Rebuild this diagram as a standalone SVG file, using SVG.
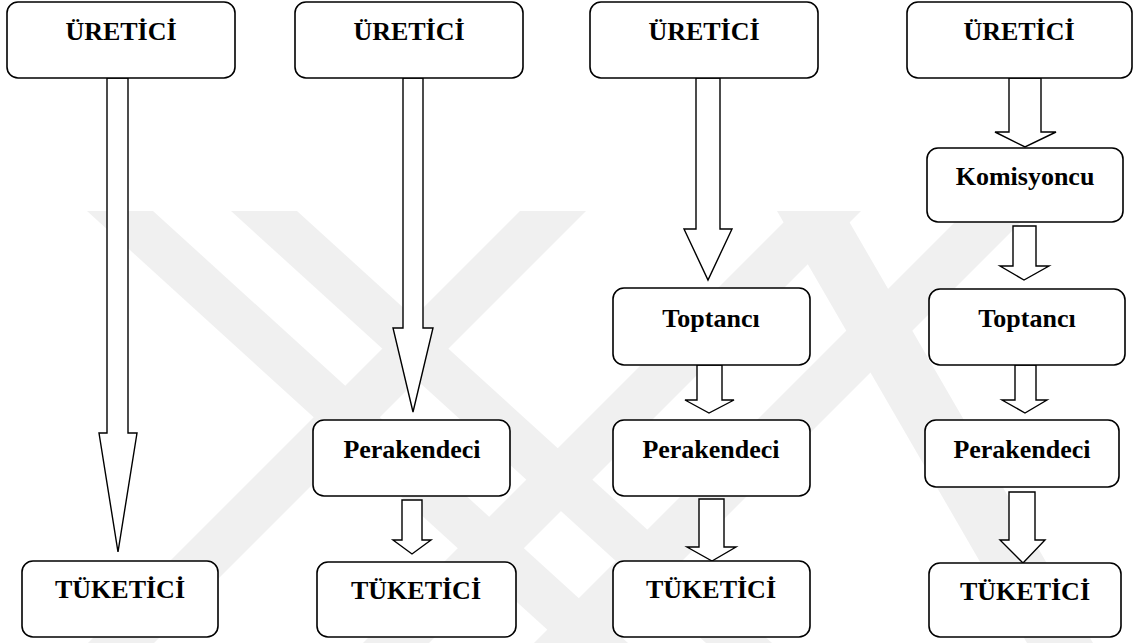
<svg xmlns="http://www.w3.org/2000/svg" width="1133" height="643" viewBox="0 0 1133 643">
<style>
.box{fill:#fff;stroke:#000;stroke-width:1.6}
.arr{fill:#fff;stroke:#000;stroke-width:1.4;stroke-linejoin:miter}
.lbl{font-family:"Liberation Serif","Times New Roman",serif;font-weight:bold;font-size:26px;text-anchor:middle;fill:#000}
.wm{fill:#f0f0f0}
</style>
<rect width="1133" height="643" fill="#fff"/>
<g id="watermark">
<polygon class="wm" points="87,211 153,211 628,643 562,643"/>
<polygon class="wm" points="520,211 586,211 154,643 88,643"/>
<polygon class="wm" points="231,211 297,211 772,643 706,643"/>
<polygon class="wm" points="795,211 861,211 429,643 363,643"/>
<polygon class="wm" points="966,211 1032,211 600,643 534,643"/>
<polygon class="wm" points="777,211 843,211 1093,643 1027,643"/>
</g>
<g id="connectors">
<polygon class="arr" points="107,78 128,78 128,433 137,433 118,552 99,433 107,433"/>
<polygon class="arr" points="403,78 423,78 423,328 433,328 413,412 393,328 403,328"/>
<polygon class="arr" points="696,78 720,78 720,229 732,229 708,280 684,229 696,229"/>
<polygon class="arr" points="1009,78 1041,78 1041,132 1056,132 1025,147 995,132 1009,132"/>
<polygon class="arr" points="402,500 422,500 422,540 431,540 412,554 393,540 402,540"/>
<polygon class="arr" points="697,365 722,365 722,400 734,400 709,413 685,400 697,400"/>
<polygon class="arr" points="699,499 724,499 724,547 736,547 712,561 687,547 699,547"/>
<polygon class="arr" points="1013,226 1036,226 1036,266 1049,266 1024,280 1000,266 1013,266"/>
<polygon class="arr" points="1015,365 1036,365 1036,400 1047,400 1025,413 1002,400 1015,400"/>
<polygon class="arr" points="1009,492 1035,492 1035,540 1045,540 1023,563 1000,540 1009,540"/>
</g>
<g id="uretici1"><rect class="box" x="7" y="2" width="228" height="76" rx="11"/><text class="lbl" x="121" y="40">ÜRETİCİ</text></g>
<g id="tuketici1"><rect class="box" x="22" y="561" width="196" height="76" rx="11"/><text class="lbl" x="120" y="598">TÜKETİCİ</text></g>
<g id="uretici2"><rect class="box" x="295" y="2" width="228" height="76" rx="11"/><text class="lbl" x="409" y="40">ÜRETİCİ</text></g>
<g id="perakendeci2"><rect class="box" x="313" y="420" width="197" height="76" rx="11"/><text class="lbl" x="412" y="458">Perakendeci</text></g>
<g id="tuketici2"><rect class="box" x="317" y="562" width="199" height="75" rx="11"/><text class="lbl" x="416" y="599">TÜKETİCİ</text></g>
<g id="uretici3"><rect class="box" x="590" y="2" width="228" height="76" rx="11"/><text class="lbl" x="704" y="40">ÜRETİCİ</text></g>
<g id="toptanci3"><rect class="box" x="613" y="288" width="197" height="77" rx="11"/><text class="lbl" x="711" y="327">Toptancı</text></g>
<g id="perakendeci3"><rect class="box" x="613" y="420" width="197" height="76" rx="11"/><text class="lbl" x="711" y="458">Perakendeci</text></g>
<g id="tuketici3"><rect class="box" x="613" y="561" width="197" height="76" rx="11"/><text class="lbl" x="711" y="598">TÜKETİCİ</text></g>
<g id="uretici4"><rect class="box" x="907" y="2" width="225" height="76" rx="11"/><text class="lbl" x="1019" y="40">ÜRETİCİ</text></g>
<g id="komisyoncu4"><rect class="box" x="927" y="148" width="196" height="74" rx="11"/><text class="lbl" x="1025" y="185">Komisyoncu</text></g>
<g id="toptanci4"><rect class="box" x="929" y="289" width="196" height="76" rx="11"/><text class="lbl" x="1027" y="327">Toptancı</text></g>
<g id="perakendeci4"><rect class="box" x="925" y="420" width="194" height="67" rx="11"/><text class="lbl" x="1022" y="458">Perakendeci</text></g>
<g id="tuketici4"><rect class="box" x="929" y="563" width="192" height="74" rx="11"/><text class="lbl" x="1025" y="600">TÜKETİCİ</text></g>
</svg>
